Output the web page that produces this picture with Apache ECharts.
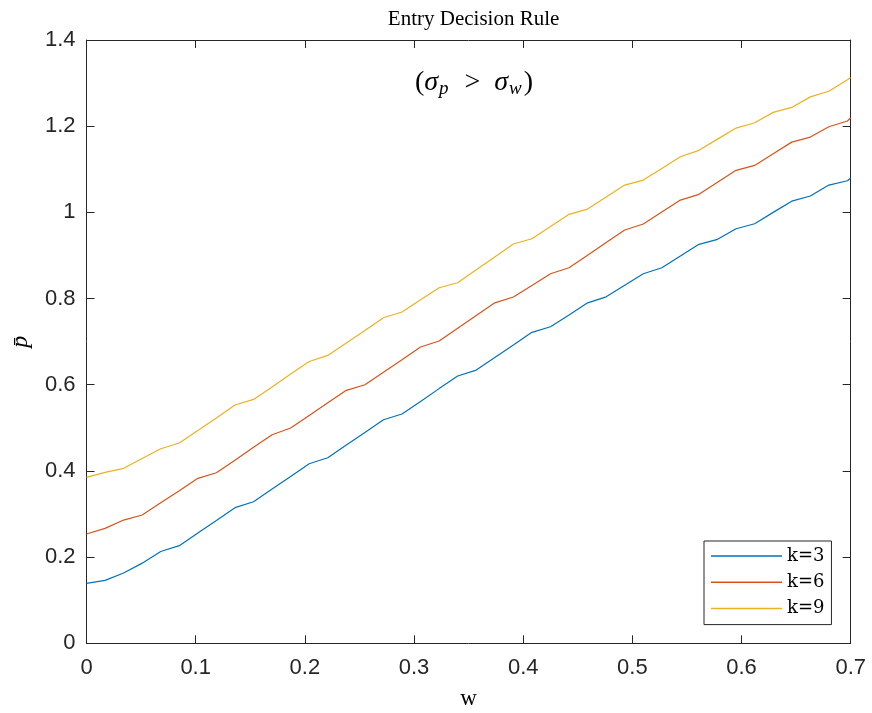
<!DOCTYPE html>
<html>
<head>
<meta charset="utf-8">
<script src="https://cdn.jsdelivr.net/npm/echarts@6/dist/echarts.min.js"></script>
<style>html,body{margin:0;padding:0;background:#fff}#c{width:872px;height:713px}</style>
</head>
<body>
<div id="c"></div>
<script>
var wValues = [0, 0.017, 0.034, 0.051, 0.068, 0.085, 0.102, 0.119, 0.136, 0.153,
  0.17, 0.187, 0.204, 0.221, 0.238, 0.255, 0.272, 0.289, 0.306, 0.323,
  0.34, 0.357, 0.374, 0.391, 0.408, 0.425, 0.442, 0.459, 0.476, 0.493,
  0.51, 0.527, 0.544, 0.561, 0.578, 0.595, 0.612, 0.629, 0.646, 0.663,
  0.68, 0.697, 0.7];
var k3Values = [0.139, 0.146, 0.163, 0.186, 0.213, 0.2265, 0.256, 0.285, 0.3147, 0.3286,
  0.358, 0.387, 0.4167, 0.4306, 0.460, 0.489, 0.5188, 0.532, 0.561, 0.591,
  0.6202, 0.634, 0.663, 0.692, 0.7216, 0.7346, 0.762, 0.790, 0.804, 0.831,
  0.8576, 0.8715, 0.8987, 0.9258, 0.9374, 0.962, 0.9736, 1.000, 1.026, 1.038,
  1.0633, 1.0733, 1.080];
var k6Values = [0.2536, 0.2668, 0.286, 0.2977, 0.326, 0.354, 0.3828, 0.3958, 0.425, 0.455,
  0.484, 0.4995, 0.5287, 0.558, 0.587, 0.600, 0.629, 0.658, 0.6875, 0.7014,
  0.731, 0.7607, 0.790, 0.8035, 0.8305, 0.8575, 0.8715, 0.9007, 0.930, 0.959,
  0.973, 1.0008, 1.0285, 1.0418, 1.0697, 1.0975, 1.109, 1.136, 1.163, 1.1747,
  1.1986, 1.212, 1.2195];
var k9Values = [0.385, 0.3967, 0.406, 0.429, 0.4515, 0.4647, 0.494, 0.523, 0.553, 0.566,
  0.595, 0.625, 0.654, 0.668, 0.697, 0.726, 0.7555, 0.7687, 0.797, 0.825,
  0.8367, 0.8666, 0.8966, 0.9265, 0.9388, 0.967, 0.9954, 1.0077, 1.0355, 1.0633,
  1.075, 1.102, 1.129, 1.144, 1.170, 1.1956, 1.208, 1.232, 1.2436, 1.268,
  1.281, 1.308, 1.313];
var seriesNames = ['k=3', 'k=6', 'k=9'];
var seriesColors = ['#0072BD', '#D95319', '#EDB120'];
var xTicks = [0, 0.1, 0.2, 0.3, 0.4, 0.5, 0.6, 0.7];
var yTicks = [0, 0.2, 0.4, 0.6, 0.8, 1, 1.2, 1.4];

function pairs(vals) {
  return wValues.map(function (w, i) { return [w, vals[i]]; });
}
var allValues = [k3Values, k6Values, k9Values];

var axisCol = '#262626';
var sans = 'Liberation Sans, Arial, Helvetica, sans-serif';
var serif = 'Liberation Serif, DejaVu Serif, serif';
var wideSerif = 'DejaVu Serif, Liberation Serif, serif';

var chart = echarts.init(document.getElementById('c'), null, {renderer: 'canvas'});
var baseX = {
  type: 'value', min: 0, max: 0.7, interval: 0.1,
  axisLine: {show: true, onZero: false, lineStyle: {color: axisCol, width: 1}},
  axisTick: {show: true, inside: true, length: 8, lineStyle: {color: axisCol, width: 1}},
  splitLine: {show: false}
};
var baseY = {
  type: 'value', min: 0, max: 1.4, interval: 0.2,
  axisLine: {show: true, onZero: false, lineStyle: {color: axisCol, width: 1}},
  axisTick: {show: true, inside: true, length: 8, lineStyle: {color: axisCol, width: 1}},
  splitLine: {show: false}
};
var option = {
  backgroundColor: '#ffffff',
  animation: false,
  title: [{
    text: 'Entry Decision Rule',
    left: 468.6, top: 4, textAlign: 'center',
    textStyle: {fontFamily: serif, fontSize: 21, fontWeight: 'normal', color: '#000'}
  }, {
    text: '{a|(}{s|σ}{sub|p}{a|  >  }{s|σ}{sub|w}{a|)}',
    left: 469, top: 62, textAlign: 'center',
    textStyle: {
      fontWeight: 'normal',
      rich: {
        a: {fontFamily: serif, fontSize: 28, fontWeight: 'normal', color: '#000'},
        s: {fontFamily: serif, fontSize: 28, fontWeight: 'normal', fontStyle: 'italic', color: '#000'},
        sub: {fontFamily: serif, fontSize: 19, fontWeight: 'normal', fontStyle: 'italic', color: '#000', padding: [12, 2, 0, 1]}
      }
    }
  }],
  grid: {left: 86.5, right: 21.3, top: 40, bottom: 69.7, containLabel: false, outerBoundsMode: 'none'},
  legend: {
    orient: 'vertical', left: 704, top: 541,
    data: seriesNames,
    icon: 'rect', itemWidth: 71, itemHeight: 1.5, itemGap: 6.3,
    padding: [5, 7, 6, 7],
    borderColor: axisCol, borderWidth: 1, backgroundColor: '#fff',
    textStyle: {fontFamily: wideSerif, fontSize: 18, color: '#000', lineHeight: 20}
  },
  xAxis: [
    Object.assign({}, baseX, {
      position: 'bottom',
      axisLabel: {show: true, margin: 14, fontFamily: sans, fontSize: 22, color: axisCol,
        formatter: function (v) { var r = Math.round(v * 10) / 10; return xTicks.indexOf(r) >= 0 ? String(r) : ''; }},
      name: 'w', nameLocation: 'middle', nameGap: 44,
      nameTextStyle: {fontFamily: serif, fontSize: 23, color: '#000'}
    }),
    Object.assign({}, baseX, {position: 'top', axisLabel: {show: false}})
  ],
  yAxis: [
    Object.assign({}, baseY, {
      position: 'left',
      axisLabel: {show: true, margin: 11, fontFamily: sans, fontSize: 22, color: axisCol,
        formatter: function (v) { var r = Math.round(v * 10) / 10; return yTicks.indexOf(r) >= 0 ? String(r) : ''; }},
      name: 'p\u0304', nameLocation: 'middle', nameGap: 54, nameRotate: 90,
      nameTextStyle: {fontFamily: serif, fontSize: 24, fontStyle: 'italic', color: '#000'}
    }),
    Object.assign({}, baseY, {position: 'right', axisLabel: {show: false}})
  ],
  series: seriesNames.map(function (n, i) {
    return {
      name: n, type: 'line', xAxisIndex: 0, yAxisIndex: 0,
      data: pairs(allValues[i]),
      symbol: 'none', showSymbol: false,
      lineStyle: {color: seriesColors[i], width: 1.2},
      itemStyle: {color: seriesColors[i]},
      emphasis: {disabled: true}
    };
  })
};
chart.setOption(option);
</script>
</body>
</html>
